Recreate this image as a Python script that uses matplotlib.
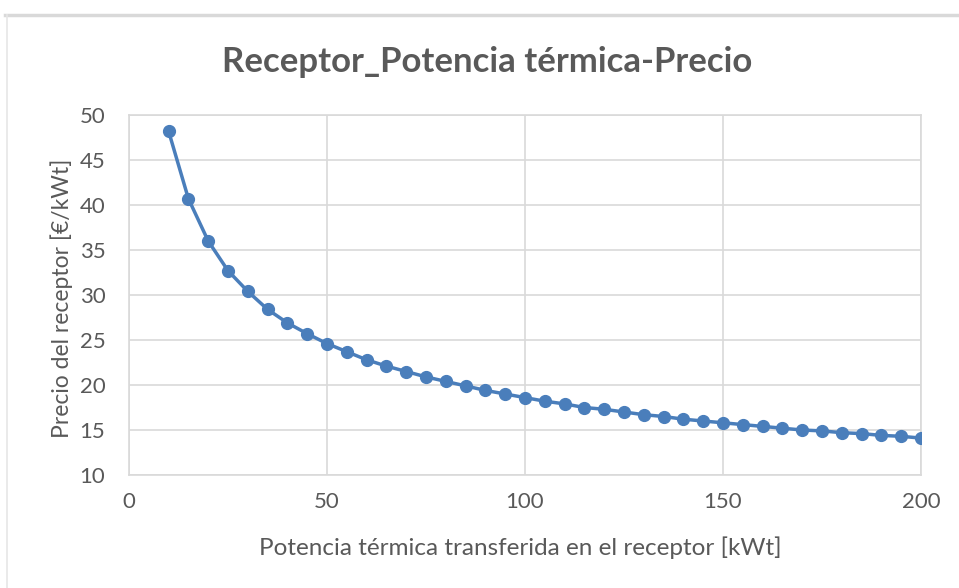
import matplotlib.pyplot as plt
from matplotlib.lines import Line2D

# potencia termica [kWt] vs precio del receptor [EUR/kWt]
potencia = [10, 15, 20, 25, 30, 35, 40, 45, 50, 55, 60, 65, 70, 75, 80, 85, 90, 95, 100,
            105, 110, 115, 120, 125, 130, 135, 140, 145, 150, 155, 160, 165, 170, 175, 180,
            185, 190, 195, 200]
precio = [48.2, 40.7, 36.0, 32.7, 30.4, 28.4, 26.9, 25.7, 24.6, 23.7, 22.8, 22.1, 21.5,
          20.9, 20.4, 19.9, 19.4, 19.0, 18.6, 18.2, 17.9, 17.5, 17.3, 17.0, 16.7, 16.5,
          16.2, 16.0, 15.8, 15.6, 15.4, 15.2, 15.0, 14.9, 14.7, 14.6, 14.4, 14.3, 14.1]

plt.rcParams['font.family'] = ['Lato', 'DejaVu Sans']

W, H = 959, 588
fig = plt.figure(figsize=(W / 100, H / 100), dpi=100)
fig.patch.set_facecolor('white')

# grey frame of the screenshot (top and left)
fig.add_artist(Line2D([5 / W, 1], [1 - 15 / H, 1 - 15 / H], color='#d9d9d9', lw=2.5))
fig.add_artist(Line2D([7 / W, 7 / W], [0, 1 - 15 / H], color='#e6e6e6', lw=1.2))

left, right, top, bottom = 129, 921, 115, 475
ax = fig.add_axes([left / W, 1 - bottom / H, (right - left) / W, (bottom - top) / H])

ax.plot(potencia, precio, color='#4a7ebb', lw=2.5, marker='o', markersize=8.5,
        markerfacecolor='#4a7ebb', markeredgecolor='#4a7ebb', zorder=3)

ax.set_xlim(0, 200)
ax.set_ylim(10, 50)
ax.set_xticks(range(0, 201, 50))
ax.set_yticks(range(10, 51, 5))
ax.grid(True, color='#d9d9d9', lw=1.2)
ax.set_axisbelow(True)
for s in ax.spines.values():
    s.set_color('#d9d9d9')
    s.set_linewidth(1.2)
ax.tick_params(length=0, labelsize=16, labelcolor='#595959')
ax.tick_params(axis='x', pad=12)
ax.tick_params(axis='y', pad=17)

ax.set_xlabel('Potencia térmica transferida en el receptor [kWt]', fontsize=17.5,
              color='#595959', va='center')
ax.xaxis.set_label_coords((520 - left) / (right - left), (bottom - 548) / (bottom - top))
ax.set_ylabel('Precio del receptor [€/kWt]', fontsize=16.5, color='#595959', va='center')
ax.yaxis.set_label_coords((62 - left) / (right - left), 0.49)

fig.text(487 / W, 1 - 62 / H, 'Receptor_Potencia térmica-Precio', ha='center', va='center',
         fontsize=25, fontweight='bold', color='#595959')

fig.savefig('out.png', dpi=100, facecolor='white')
